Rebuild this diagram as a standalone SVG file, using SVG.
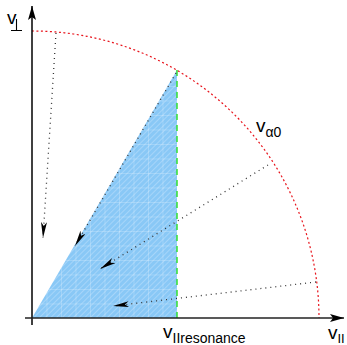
<svg xmlns="http://www.w3.org/2000/svg" width="347" height="345" viewBox="0 0 347 345">
<style>
.lbl{font-family:"Liberation Sans",Arial,sans-serif;fill:#000}
.dot{fill:none;stroke:#333;stroke-width:1.3;stroke-dasharray:1 4}
</style>
<defs>
<pattern id="hatch" width="4" height="4" patternUnits="userSpaceOnUse" patternTransform="rotate(45)">
<rect width="4" height="4" fill="#89c8f6"/>
<line x1="0" y1="0" x2="0" y2="4" stroke="#d2eafc" stroke-width="0.8"/>
</pattern>
<pattern id="grid" width="14.5" height="14.5" patternUnits="userSpaceOnUse" x="32" y="318">
<path d="M0 0H14.5M0 0V14.5" stroke="#ffffff" stroke-opacity="0.5" stroke-width="0.8" fill="none"/>
</pattern>
<marker id="ah" viewBox="0 0 16 6" refX="16" refY="3" markerWidth="16" markerHeight="6" markerUnits="userSpaceOnUse" orient="auto">
<path d="M0 0L16 3L0 6L4 3Z" fill="#000"/>
</marker>
<marker id="ax" viewBox="0 0 14 8" refX="14" refY="4" markerWidth="14" markerHeight="8" markerUnits="userSpaceOnUse" orient="auto">
<path d="M0 0L14 4L0 8L3 4Z" fill="#000"/>
</marker>
</defs>
<g id="region">
<polygon points="32,318 177,70 177,318" fill="url(#hatch)"/>
<polygon points="32,318 177,70 177,318" fill="url(#grid)"/>
</g>
<g id="resonance-line">
<line x1="177" y1="70" x2="177" y2="318" stroke="#33e033" stroke-width="1.5" stroke-dasharray="6 5"/>
</g>
<g id="circle">
<path d="M32 31A287 287 0 0 1 319 318" fill="none" stroke="#e8141c" stroke-width="1.2" stroke-dasharray="2 2.5"/>
</g>
<g id="axes">
<line x1="32" y1="325" x2="32" y2="6" stroke="#000" stroke-width="1.5" marker-end="url(#ax)"/>
<line x1="25" y1="318" x2="344" y2="318" stroke="#222" stroke-width="1.5" marker-end="url(#ax)"/>
</g>
<g id="connectors">
<line class="dot" x1="56" y1="33" x2="43" y2="238" marker-end="url(#ah)"/>
<line class="dot" x1="176" y1="73" x2="75" y2="246" marker-end="url(#ah)"/>
<line class="dot" x1="268" y1="165" x2="100" y2="269" marker-end="url(#ah)"/>
<line class="dot" x1="316" y1="282" x2="113" y2="306" marker-end="url(#ah)"/>
</g>
<g id="labels">
<text class="lbl" x="7" y="24" font-size="19">v</text>
<path d="M16.5 19V30M11 30.5H22" stroke="#000" stroke-width="1.1" fill="none"/>
<text class="lbl" x="256" y="132" font-size="19">v<tspan font-size="14" dy="5">α0</tspan></text>
<text class="lbl" x="163" y="338" font-size="19">v<tspan font-size="14" dy="5">IIresonance</tspan></text>
<text class="lbl" x="328" y="339" font-size="19">v<tspan font-size="13" dy="4">II</tspan></text>
</g>
</svg>
